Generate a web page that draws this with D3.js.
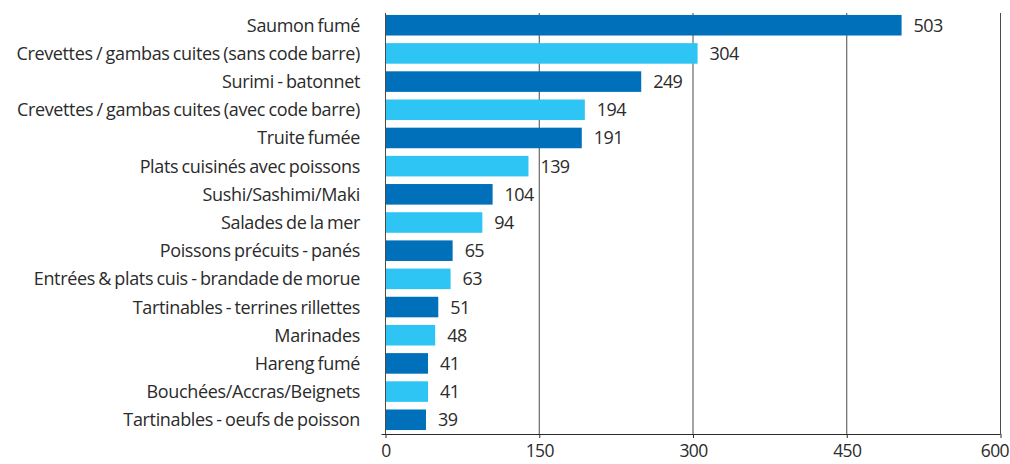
<!DOCTYPE html>
<html>
<head>
<meta charset="utf-8">
<script src="https://cdn.jsdelivr.net/npm/d3@7"></script>
<style>
  html, body { margin: 0; padding: 0; background: #fff; }
  svg text { font-family: "Open Sans", "Noto Sans", sans-serif; fill: #2b2b2b; }
</style>
</head>
<body>
<svg id="chart" width="1010" height="464"></svg>
<script>
const categories = [
  "Saumon fumé",
  "Crevettes / gambas cuites (sans code barre)",
  "Surimi - batonnet",
  "Crevettes / gambas cuites (avec code barre)",
  "Truite fumée",
  "Plats cuisinés avec poissons",
  "Sushi/Sashimi/Maki",
  "Salades de la mer",
  "Poissons précuits - panés",
  "Entrées & plats cuis - brandade de morue",
  "Tartinables - terrines rillettes",
  "Marinades",
  "Hareng fumé",
  "Bouchées/Accras/Beignets",
  "Tartinables - oeufs de poisson"
];
const values = [503, 304, 249, 194, 191, 139, 104, 94, 65, 63, 51, 48, 41, 41, 39];
const xTicks = [0, 150, 300, 450, 600];
const barColors = ["#0070ba", "#2ec5f4"];

const svg = d3.select("#chart");
const plot = { left: 385, right: 1000, top: 11, bottom: 434 };
const fontSize = 18;

const x = d3.scaleLinear().domain([0, 600]).range([plot.left, plot.right]);
const y = d3.scaleBand().domain(categories).range([plot.top, plot.bottom])
  .paddingInner(0.27).paddingOuter(0.14);

// vertical gridlines
svg.append("g").selectAll("line").data(xTicks).join("line")
  .attr("x1", d => x(d) + 0.5).attr("x2", d => x(d) + 0.5)
  .attr("y1", plot.top + 2).attr("y2", plot.bottom)
  .attr("stroke", "#4a4a4a").attr("stroke-width", 1);

// bars
svg.append("g").selectAll("rect").data(values).join("rect")
  .attr("x", x(0) + 1)
  .attr("y", (d, i) => y(categories[i]))
  .attr("width", d => x(d) - x(0))
  .attr("height", y.bandwidth())
  .attr("fill", (d, i) => barColors[i % 2]);

// value labels
svg.append("g").selectAll("text").data(values).join("text")
  .attr("x", d => x(d) + 13)
  .attr("y", (d, i) => y(categories[i]) + y.bandwidth() / 2)
  .attr("dy", "0.36em")
  .attr("font-size", fontSize)
  .attr("letter-spacing", -0.6)
  .text(d => d);

// category labels
svg.append("g").selectAll("text").data(categories).join("text")
  .attr("x", 360)
  .attr("y", d => y(d) + y.bandwidth() / 2)
  .attr("dy", "0.36em")
  .attr("text-anchor", "end")
  .attr("font-size", fontSize)
  .attr("letter-spacing", -0.35)
  .attr("word-spacing", -1)
  .text(d => d);

// x axis
const xAxis = d3.axisBottom(x).tickValues(xTicks).tickSize(4).tickPadding(7);
const gx = svg.append("g").attr("transform", `translate(0.5,${plot.bottom})`).call(xAxis);
gx.select(".domain").attr("d", `M${plot.left - 4},0.5H${plot.right}`).attr("stroke", "#2b2b2b");
gx.selectAll(".tick line").attr("stroke", "#2b2b2b");
gx.selectAll(".tick text").attr("font-size", 17.5)
  .attr("letter-spacing", -0.6)
  .style("font-family", '"Open Sans", "Noto Sans", sans-serif').attr("fill", "#2b2b2b");
// keep the last tick label inside the frame
gx.selectAll(".tick text").filter(d => d === 600).attr("text-anchor", "end").attr("x", 8);
</script>
</body>
</html>
